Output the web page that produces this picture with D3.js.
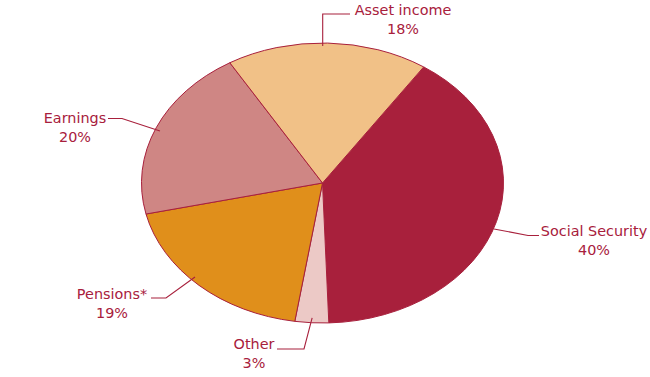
<!DOCTYPE html>
<html>
<head>
<meta charset="utf-8">
<script src="https://cdn.jsdelivr.net/npm/d3@7"></script>
<style>
  body { margin: 0; background: #fff; }
  text { font-family: "DejaVu Sans", sans-serif; font-size: 14.4px; fill: #a8203c; }
</style>
</head>
<body>
<div id="chart"></div>
<script>
// income sources, percent
const categories = ["Social Security", "Other", "Pensions*", "Earnings", "Asset income"];
const shares = [40, 3, 19, 20, 18];
const colors = ["#a8203c", "#ecc9c6", "#e08f1b", "#cf8684", "#f1c187"];

const width = 650, height = 377;
const cx = 322.5, cy = 183, rx = 181, ry = 140;
const start = 34 * Math.PI / 180;

const svg = d3.select("#chart").append("svg")
  .attr("width", width)
  .attr("height", height);

const data = categories.map((c, i) => ({ name: c, value: shares[i], color: colors[i] }));

const pie = d3.pie()
  .value(d => d.value)
  .sort(null)
  .startAngle(start)
  .endAngle(start + 2 * Math.PI);

const arcs = pie(data);
const arc = d3.arc().innerRadius(0).outerRadius(rx);

// pie is drawn as a circle and squashed into an ellipse
const g = svg.append("g")
  .attr("transform", `translate(${cx},${cy}) scale(1,${ry / rx})`);

g.selectAll("path")
  .data(arcs)
  .join("path")
  .attr("d", arc)
  .attr("fill", d => d.data.color)
  .attr("stroke", "#a8203c")
  .attr("stroke-width", 1)
  .attr("vector-effect", "non-scaling-stroke");

// point on the ellipse edge (k = fraction of radius) at the middle of a slice
function edgePoint(a, k) {
  const m = (a.startAngle + a.endAngle) / 2;
  return [cx + rx * k * Math.sin(m), cy - ry * k * Math.cos(m)];
}

// label placement (leader line points, text centre)
const labelLayout = {
  "Asset income":    { pts: [[350, 14], [322.7, 14], [322.7, 46]], x: 403, y: 15 },
  "Social Security": { pts: [[539, 235.5], [528, 235.5], [494, 229]], x: 594, y: 236 },
  "Earnings":        { pts: [[108, 118.5], [122, 118.5], [160, 131]], x: 75, y: 123 },
  "Pensions*":       { pts: [[151, 298], [166, 298], [195, 277]], x: 112, y: 298.5 },
  "Other":           { pts: [[277, 349], [304, 349]], x: 254, y: 349, tip: 0.965 }
};

const line = d3.line();

const labels = svg.append("g")
  .selectAll("g")
  .data(arcs)
  .join("g");

labels.append("path")
  .attr("d", d => {
    const l = labelLayout[d.data.name];
    const pts = l.tip ? l.pts.concat([edgePoint(d, l.tip)]) : l.pts;
    return line(pts);
  })
  .attr("fill", "none")
  .attr("stroke", "#a8203c")
  .attr("stroke-width", 1.1);

labels.append("text")
  .attr("text-anchor", "middle")
  .attr("x", d => labelLayout[d.data.name].x)
  .attr("y", d => labelLayout[d.data.name].y)
  .text(d => d.data.name);

labels.append("text")
  .attr("text-anchor", "middle")
  .attr("x", d => labelLayout[d.data.name].x)
  .attr("y", d => labelLayout[d.data.name].y + 19)
  .text(d => d.data.value + "%");
</script>
</body>
</html>
